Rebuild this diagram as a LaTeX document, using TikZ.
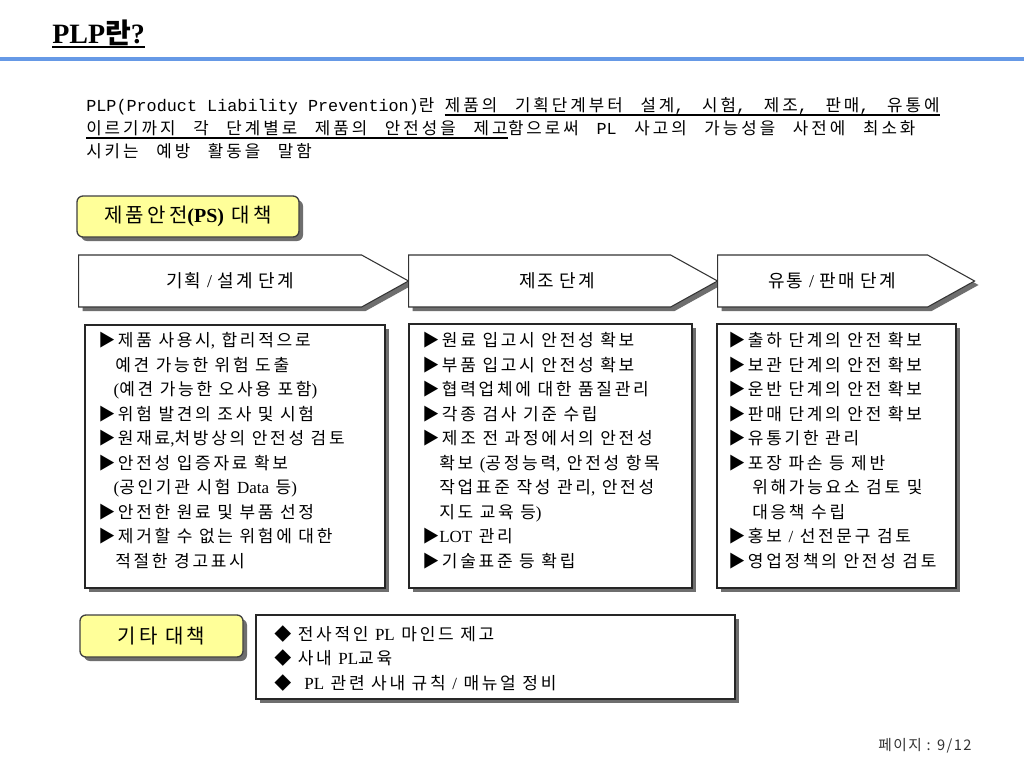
\documentclass[tikz,border=0pt]{standalone}
\usepackage{fontspec}
\setmainfont{Liberation Serif}
\newfontfamily\kr{Noto Sans CJK KR}
\newfontfamily\krp{Noto Sans CJK KR}[LetterSpace=18,WordSpace=2.6]
\newfontfamily\krb{Noto Sans CJK KR}[LetterSpace=16]
\newfontfamily\krc{Noto Sans CJK KR}[LetterSpace=10]
\newfontfamily\mono{Liberation Mono}
\usetikzlibrary{shadows,shapes.symbols,calc}
\newcommand\tm[1]{{\rmfamily #1}}
\definecolor{blueline}{RGB}{102,153,230}
\definecolor{tagyellow}{RGB}{255,255,153}
\definecolor{shadowgray}{RGB}{110,110,110}
\tikzset{
  para/.style={inner sep=0, font=\krp\fontsize{12.6}{12.6}\selectfont},
  uline/.style={line width=0.9pt},
  tagbox/.style={draw=black!75, line width=1pt, fill=tagyellow, rounded corners=4.5pt,
    drop shadow={shadow xshift=3pt, shadow yshift=-3pt, fill=shadowgray, opacity=1},
    font=\krb\fontsize{15}{15}\selectfont},
  stage/.style={signal, signal to=east, signal pointer angle=58, draw=black!80, line width=0.8pt,
    fill=white, minimum height=39pt, inner sep=0, anchor=west,
    drop shadow={shadow xshift=3pt, shadow yshift=-3pt, fill=shadowgray, opacity=1}},
  stagelbl/.style={inner sep=0, font=\krc\fontsize{13.5}{13.5}\selectfont},
  listbox/.style={draw=black!85, line width=0.8pt, fill=white,
    drop shadow={shadow xshift=3pt, shadow yshift=-3pt, fill=shadowgray, opacity=1}},
  listtxt/.style={inner sep=0, anchor=north west, align=left,
    font=\krb\fontsize{12.75}{18.4}\selectfont},
}
\begin{document}
\begin{tikzpicture}[x=0.75pt,y=-0.75pt]
\useasboundingbox (0,0) rectangle (1024,768);
\fill[white] (0,0) rectangle (1024,768);
% title
\node[anchor=base west, inner sep=0, font=\rmfamily\bfseries\fontsize{21}{21}\selectfont] (title) at (52,43) {PLP{\kr\bfseries 란}?};
\draw[line width=1.2pt] ([yshift=-3pt]title.base west) -- ([yshift=-3pt]title.base east);
\draw[blueline, line width=2.4pt] (0,59) -- (1024,59);
% paragraph
\node[para, anchor=base west] (p1a) at (86,111) {\mono PLP(Product Liability Prevention)\krp 란};
\node[para, anchor=base west] (p1b) at ([xshift=7.5pt]p1a.base east) {제품의 기획단계부터 설계{\mono,} 시험{\mono,} 제조{\mono,} 판매{\mono,} 유통에};
\draw[uline] ([yshift=-3pt]p1b.base west) -- ([yshift=-3pt]p1b.base east);
\node[para, anchor=base west] (p2a) at (86,134) {이르기까지 각 단계별로 제품의 안전성을 제고};
\node[para, anchor=base west] (p2b) at (p2a.base east) {함으로써 {\mono PL} 사고의 가능성을 사전에 최소화};
\draw[uline] ([yshift=-3pt]p2a.base west) -- ([yshift=-3pt]p2a.base east);
\node[para, anchor=base west] (p3) at (86,157) {시키는 예방 활동을 말함};
% PS tag
\node[tagbox, minimum width=166.5pt, minimum height=30.75pt] (ps) at (188,216.5) {제품안전\tm{\bfseries(PS)} 대책};
% stages
\node[stage, minimum width=247.5pt] (a1) at (78,281) {};
\node[stage, minimum width=231.75pt] (a2) at (408,281) {};
\node[stage, minimum width=192.75pt] (a3) at (717,281) {};
\node[stagelbl] (l1) at (230,281) {기획 \tm{/} 설계 단계};
\node[stagelbl] (l2) at (557,281) {제조 단계};
\node[stagelbl] (l3) at (832,281) {유통 \tm{/} 판매 단계};
% list boxes
\node[listbox, minimum width=225pt, minimum height=197.25pt] (b1) at (235,456.5) {};
\node[listbox, minimum width=212.25pt, minimum height=198pt] (b2) at (550.5,456) {};
\node[listbox, minimum width=179.25pt, minimum height=198pt] (b3) at (836.5,456) {};
\node[listtxt] (t1) at (98,332) {▶제품 사용시\tm{,} 합리적으로\\
\hspace*{12.75pt}예견 가능한 위험 도출\\
\hspace*{11.5pt}\tm{(}예견 가능한 오사용 포함\tm{)}\\
▶위험 발견의 조사 및 시험\\
▶원재료\tm{,}처방상의 안전성 검토\\
▶안전성 입증자료 확보\\
\hspace*{11.5pt}\tm{(}공인기관 시험 \tm{Data} 등\tm{)}\\
▶안전한 원료 및 부품 선정\\
▶제거할 수 없는 위험에 대한\\
\hspace*{12.75pt}적절한 경고표시};
\node[listtxt] (t2) at (422,332) {▶원료 입고시 안전성 확보\\
▶부품 입고시 안전성 확보\\
▶협력업체에 대한 품질관리\\
▶각종 검사 기준 수립\\
▶제조 전 과정에서의 안전성\\
\hspace*{12.75pt}확보 \tm{(}공정능력\tm{,} 안전성 항목\\
\hspace*{12.75pt}작업표준 작성 관리\tm{,} 안전성\\
\hspace*{12.75pt}지도 교육 등\tm{)}\\
▶\tm{LOT} 관리\\
▶기술표준 등 확립};
\node[listtxt] (t3) at (728,332) {▶출하 단계의 안전 확보\\
▶보관 단계의 안전 확보\\
▶운반 단계의 안전 확보\\
▶판매 단계의 안전 확보\\
▶유통기한 관리\\
▶포장 파손 등 제반\\
\hspace*{18pt}위해가능요소 검토 및\\
\hspace*{18pt}대응책 수립\\
▶홍보 \tm{/} 선전문구 검토\\
▶영업정책의 안전성 검토};
% other measures
\node[tagbox, minimum width=122.25pt, minimum height=31.5pt] (etc) at (161.5,636) {기타 대책};
\node[listbox, minimum width=359.25pt, minimum height=63pt] (b4) at (495.5,657) {};
\node[listtxt] (t4) at (274,625) {◆ 전사적인 \tm{PL} 마인드 제고\\
◆ 사내 \tm{PL}교육\\
◆ \ \tm{PL} 관련 사내 규칙 \tm{/} 매뉴얼 정비};
% page number
\node[inner sep=0, font=\krc\fontsize{11}{11}\selectfont, text=black!80] (pg) at (925,746) {페이지 : 9/12};
\end{tikzpicture}
\end{document}
